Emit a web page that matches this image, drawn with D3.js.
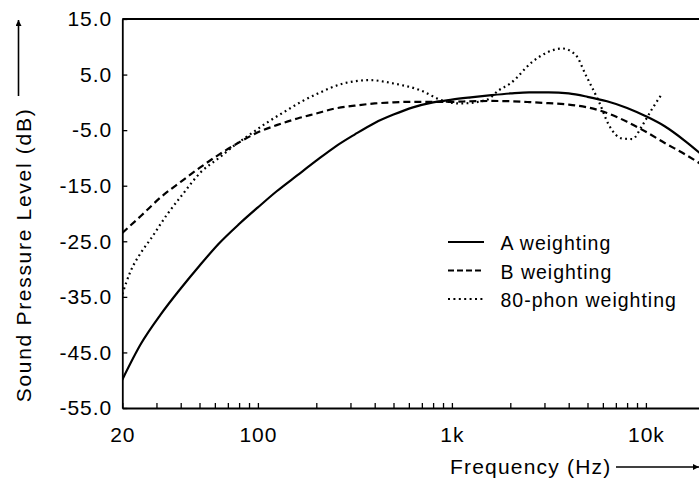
<!DOCTYPE html>
<html>
<head>
<meta charset="utf-8">
<script src="https://cdn.jsdelivr.net/npm/d3@7/dist/d3.min.js"></script>
<style>
  html, body { margin: 0; padding: 0; background: #fff; }
  svg { display: block; }
  text { font-family: "Liberation Sans", Arial, Helvetica, sans-serif; fill: #000; }
</style>
</head>
<body>
<svg id="chart" width="699" height="483"></svg>
<script>
// Frequency-weighting curves (dB) at the listed frequencies (Hz)
const aFreq = [20, 25, 31.5, 40, 50, 63, 80, 100, 125, 160, 200, 250, 315, 400, 500, 630, 800, 1000, 1250, 1600, 2000, 2500, 3150, 4000, 5000, 6300, 8000, 10000, 12500, 16000, 20000];
const aWeight = [-49.9, -43.4, -38.2, -33.5, -29.4, -25.4, -21.9, -18.9, -16.0, -13.1, -10.5, -8.0, -5.8, -3.7, -2.2, -0.9, 0.0, 0.5, 0.9, 1.3, 1.6, 1.8, 1.8, 1.6, 1.0, 0.2, -1.0, -2.5, -4.3, -7.0, -9.8];

const bFreq = aFreq;
const bWeight = [-23.5, -20.4, -17.1, -14.3, -11.8, -9.4, -7.2, -5.4, -4.1, -2.9, -2.0, -1.1, -0.6, -0.2, 0.0, 0.1, 0.1, 0.1, 0.2, 0.25, 0.2, 0.05, -0.15, -0.4, -0.9, -1.9, -3.5, -5.3, -7.3, -9.4, -11.5];

const phonFreq = [20, 22, 25, 28, 34, 40, 51, 63, 76, 90, 113, 140, 167, 204, 276, 378, 500, 685, 900, 1100, 1500, 1750, 2000, 2600, 3100, 3700, 4350, 4900, 5730, 6450, 7550, 8500, 9600, 10800, 12150];
const phonWeight = [-34.5, -30.5, -27.0, -24.6, -20.2, -17.0, -12.5, -10.0, -7.7, -5.9, -3.5, -1.5, 0.1, 1.6, 3.4, 4.0, 3.4, 2.2, 0.3, -0.2, 0.4, 2.2, 3.4, 7.3, 9.0, 9.7, 8.5, 4.9, 0.1, -4.1, -6.5, -6.6, -4.1, -1.1, 1.6];

// Axis ticks and labels
const yTicks = [15, 5, -5, -15, -25, -35, -45, -55];
const xLabelValues = [20, 100, 1000, 10000];
const xLabelText = ["20", "100", "1k", "10k"];

const seriesNames = ["A weighting", "B weighting", "80-phon weighting"];

const svg = d3.select("#chart");

const x = d3.scaleLog().domain([20, 20000]).range([122.3, 704.3]);
const y = d3.scaleLinear().domain([-55, 15]).range([408, 19]);

// minor ticks at 1..9 of each decade, starting from 20 Hz
const xTicks = [];
[10, 100, 1000, 10000].forEach(dec => {
  for (let m = 1; m <= 9; m++) {
    const v = m * dec;
    if (v >= 20 && v <= 20000) xTicks.push(v);
  }
});

const axisStroke = 1.8;

// x axis
const gx = svg.append("g").attr("transform", `translate(0,${y(-55)})`)
  .call(d3.axisBottom(x)
    .tickValues(xTicks)
    .tickSizeInner(-5)
    .tickSizeOuter(0)
    .tickPadding(19)
    .tickFormat(d => {
      const i = xLabelValues.indexOf(d);
      return i >= 0 ? xLabelText[i] : "";
    }));
gx.select(".domain").attr("stroke-width", axisStroke);
gx.selectAll(".tick line").attr("stroke-width", 1.3);
gx.selectAll(".tick text")
  .style("font-size", "21px").style("letter-spacing", "1px")
  .attr("font-family", null);

// y axis (plain hyphen for the minus sign)
const gy = svg.append("g").attr("transform", `translate(${x(20)},0)`)
  .call(d3.axisLeft(y)
    .tickValues(yTicks)
    .tickSizeInner(-5)
    .tickSizeOuter(0)
    .tickPadding(10)
    .tickFormat(d => d.toFixed(1)));
gy.select(".domain").attr("stroke-width", axisStroke);
gy.selectAll(".tick line").attr("stroke-width", 1.3);
gy.selectAll(".tick text")
  .style("font-size", "21px").style("letter-spacing", "1px")
  .attr("font-family", null);

// top frame line
svg.append("line")
  .attr("x1", x(20)).attr("x2", 699)
  .attr("y1", y(15)).attr("y2", y(15))
  .attr("stroke", "#000").attr("stroke-width", axisStroke);

// curves
const line = d3.line()
  .x(d => x(d[0]))
  .y(d => y(d[1]))
  .curve(d3.curveMonotoneX);

const styles = [
  { dash: null, width: 2.2 },
  { dash: "7,4", width: 2.2 },
  { dash: "1.8,3.4", width: 2.2 }
];
const series = [
  d3.zip(aFreq, aWeight),
  d3.zip(bFreq, bWeight),
  d3.zip(phonFreq, phonWeight)
];

svg.append("defs").append("clipPath").attr("id", "plotClip")
  .append("rect").attr("x", x(20)).attr("y", y(15))
  .attr("width", 699 - x(20)).attr("height", y(-55) - y(15));

const plot = svg.append("g").attr("clip-path", "url(#plotClip)");
series.forEach((s, i) => {
  plot.append("path")
    .datum(s)
    .attr("d", line)
    .attr("fill", "none")
    .attr("stroke", "#000")
    .attr("stroke-width", styles[i].width)
    .attr("stroke-dasharray", styles[i].dash);
});

// legend
const legendDash = [null, "6,3", "2,3.4"];
const legend = svg.append("g");
seriesNames.forEach((name, i) => {
  const yy = 242 + i * 28.5;
  legend.append("line")
    .attr("x1", 448).attr("x2", 484)
    .attr("y1", yy).attr("y2", yy)
    .attr("stroke", "#000").attr("stroke-width", 2)
    .attr("stroke-dasharray", legendDash[i]);
  legend.append("text")
    .attr("x", 500.5).attr("y", yy + 8)
    .style("font-size", "19.5px").style("letter-spacing", "1px")
    .text(name);
});

// axis titles with direction arrows
svg.append("defs").append("marker")
  .attr("id", "arrowHead")
  .attr("viewBox", "0 0 10 10")
  .attr("refX", 10).attr("refY", 5)
  .attr("markerWidth", 10).attr("markerHeight", 6)
  .attr("markerUnits", "userSpaceOnUse")
  .attr("orient", "auto")
  .append("path").attr("d", "M0,0 L10,5 L0,10 Z").attr("fill", "#000");

svg.append("text")
  .attr("transform", "translate(31,255) rotate(-90)")
  .attr("text-anchor", "middle")
  .style("font-size", "21px").style("letter-spacing", "1.7px")
  .text("Sound Pressure Level (dB)");
svg.append("line")
  .attr("x1", 18.5).attr("x2", 18.5).attr("y1", 96).attr("y2", 20)
  .attr("stroke", "#000").attr("stroke-width", 1.6)
  .attr("marker-end", "url(#arrowHead)");

svg.append("text")
  .attr("x", 450).attr("y", 474)
  .style("font-size", "21px").style("letter-spacing", "1.2px")
  .text("Frequency (Hz)");
svg.append("line")
  .attr("x1", 616).attr("x2", 699).attr("y1", 467).attr("y2", 467)
  .attr("stroke", "#000").attr("stroke-width", 1.6)
  .attr("marker-end", "url(#arrowHead)");
</script>
</body>
</html>
